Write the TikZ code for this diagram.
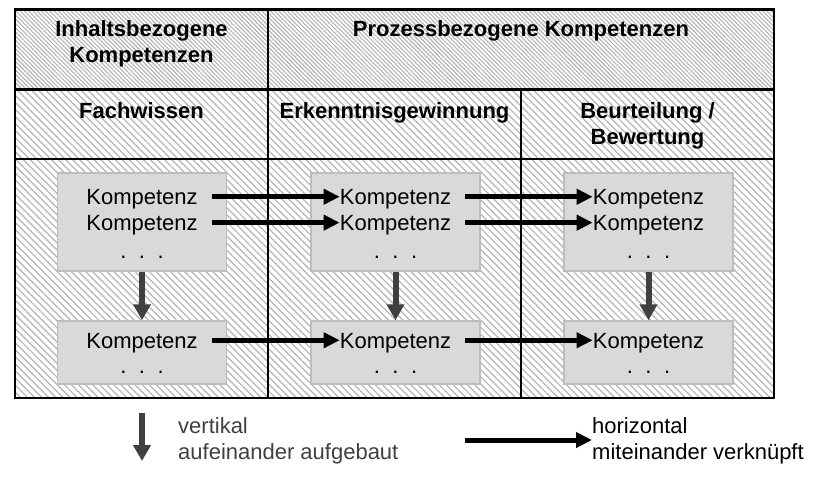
\documentclass[tikz,border=0pt]{standalone}
\usepackage{fontspec}
\setmainfont{Liberation Sans}
\usetikzlibrary{positioning,arrows.meta,patterns.meta}
\definecolor{darkgrey}{HTML}{404040}
\definecolor{boxgrey}{HTML}{D9D9D9}
\definecolor{boxedge}{HTML}{BDBDBD}
\definecolor{hatchgrey}{HTML}{B4B4B4}
\newcommand{\kdots}{.\hspace{12.5pt}.\hspace{12.5pt}.}
\tikzset{
  head/.style={font=\fontsize{22}{26}\selectfont\bfseries, inner sep=0pt, align=center, anchor=north},
  kbox/.style={fill=boxgrey, draw=boxedge, line width=1.5pt, minimum width=169pt, inner sep=0pt},
  ktext/.style={font=\fontsize{22}{26}\selectfont, inner sep=0pt, text height=16pt, text depth=0pt},
  legend/.style={font=\fontsize{22}{26}\selectfont, inner sep=0pt, align=left, anchor=north west},
  varrow/.style={darkgrey, line width=6pt, -{Triangle[length=16pt,width=17pt]}},
  harrow/.style={black, line width=5pt, -{Triangle[length=16pt,width=15pt]}},
}

\begin{document}
\begin{tikzpicture}[x=1pt,y=1pt,node distance=9.5pt]
\useasboundingbox (0,0) rectangle (816,-483);
% table
\fill[white] (15,-9.5) rectangle (774,-398);
\pattern[pattern={Lines[angle=-45,distance=3pt,line width=1.1pt]},pattern color=hatchgrey] (15,-9.5) rectangle (774,-89.5);
\pattern[pattern={Lines[angle=-45,distance=5pt,line width=1.2pt]},pattern color=hatchgrey] (15,-89.5) rectangle (774,-398);
\draw[line width=2.6pt] (15,-9.5) rectangle (774,-398) (15,-89.5) -- (774,-89.5) (15,-159) -- (774,-159) (268,-9.5) -- (268,-398) (521,-89.5) -- (521,-398);
\node[head] (inh) at (141.5,-20.5) {Inhaltsbezogene\\Kompetenzen}; \node[head] (proz) at (521,-20.5) {Prozessbezogene Kompetenzen};
\node[head] (fach) at (141.5,-102) {Fachwissen}; \node[head] (erk) at (394.5,-102) {Erkenntnisgewinnung}; \node[head] (beur) at (647.5,-102) {Beurteilung /\\Bewertung};
% boxes
\node[kbox, minimum height=98pt] (b1) at (142,-222) {}; \node[kbox, minimum height=63pt] (c1) at (142,-352.5) {};
\node[kbox, minimum height=98pt] (b2) at (395.5,-222) {}; \node[kbox, minimum height=63pt] (c2) at (395.5,-352.5) {};
\node[kbox, minimum height=98pt] (b3) at (648.5,-222) {}; \node[kbox, minimum height=63pt] (c3) at (648.5,-352.5) {};
\node[ktext] (k1a) at ([yshift=-24.5pt]b1.north) {Kompetenz}; \node[ktext, below=of k1a] (k1b) {Kompetenz}; \node[ktext, below=11pt of k1b] (d1) {\kdots};
\node[ktext] (k2a) at ([yshift=-24.5pt]b2.north) {Kompetenz}; \node[ktext, below=of k2a] (k2b) {Kompetenz}; \node[ktext, below=11pt of k2b] (d2) {\kdots};
\node[ktext] (k3a) at ([yshift=-24.5pt]b3.north) {Kompetenz}; \node[ktext, below=of k3a] (k3b) {Kompetenz}; \node[ktext, below=11pt of k3b] (d3) {\kdots};
\node[ktext] (k1c) at ([yshift=-20pt]c1.north) {Kompetenz}; \node[ktext, below=9pt of k1c] (e1) {\kdots};
\node[ktext] (k2c) at ([yshift=-20pt]c2.north) {Kompetenz}; \node[ktext, below=9pt of k2c] (e2) {\kdots};
\node[ktext] (k3c) at ([yshift=-20pt]c3.north) {Kompetenz}; \node[ktext, below=9pt of k3c] (e3) {\kdots};
% arrows
\draw[varrow] (b1) -- (c1); \draw[varrow] (b2) -- (c2); \draw[varrow] (b3) -- (c3);
\draw[harrow] ([xshift=14pt]k1a.east) -- (k2a.west); \draw[harrow] ([xshift=14pt]k2a.east) -- (k3a.west);
\draw[harrow] ([xshift=14pt]k1b.east) -- (k2b.west); \draw[harrow] ([xshift=14pt]k2b.east) -- (k3b.west);
\draw[harrow] ([xshift=14pt]k1c.east) -- (k2c.west); \draw[harrow] ([xshift=14pt]k2c.east) -- (k3c.west);
% legend
\coordinate (vs) at (142,-413); \coordinate (ve) at (142,-461); \draw[varrow] (vs) -- (ve);
\node[legend, text=darkgrey] (vleg) at (178,-417) {vertikal\\aufeinander aufgebaut};
\node[legend] (hleg) at (592,-417) {horizontal\\miteinander verknüpft};
\coordinate (hs) at (465,-440); \draw[harrow] (hs) -- (hs -| hleg.west);
\end{tikzpicture}
\end{document}
